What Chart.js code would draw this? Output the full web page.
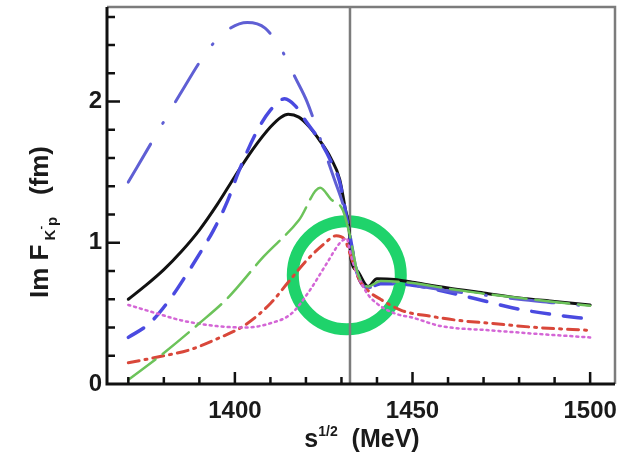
<!DOCTYPE html>
<html>
<head>
<meta charset="utf-8">
<script src="https://cdn.jsdelivr.net/npm/chart.js@4"></script>
<style>
body { margin: 0; background: #fff; }
#wrap { width: 623px; height: 454px; }
</style>
</head>
<body>
<div id="wrap"><canvas id="c" width="623" height="454"></canvas></div>
<script>
// x = s^1/2 (MeV), y = Im F (fm)
var blackX = [1370, 1375, 1380, 1385, 1390, 1395, 1400, 1405, 1410, 1413, 1415, 1418, 1421, 1424, 1427, 1429.5, 1431, 1432.2, 1432.6, 1434.5, 1437.5, 1440, 1445, 1450, 1460, 1470, 1480, 1490, 1500];
var blackY = [0.60, 0.70, 0.81, 0.94, 1.09, 1.27, 1.47, 1.66, 1.82, 1.89, 1.91, 1.89, 1.82, 1.72, 1.60, 1.45, 1.25, 1.08, 0.90, 0.80, 0.69, 0.745, 0.74, 0.72, 0.68, 0.645, 0.61, 0.585, 0.56];

var blueDashX = [1370, 1376, 1382, 1386, 1390, 1394, 1398, 1401, 1406, 1410, 1414, 1417, 1420, 1424, 1427, 1429.5, 1431, 1432.3, 1434.5, 1437.5, 1441, 1450, 1460, 1470, 1478, 1490, 1500];
var blueDashY = [0.33, 0.43, 0.61, 0.76, 0.92, 1.09, 1.30, 1.50, 1.78, 1.94, 2.02, 1.97, 1.86, 1.72, 1.58, 1.43, 1.24, 1.06, 0.78, 0.68, 0.71, 0.70, 0.65, 0.59, 0.54, 0.49, 0.46];

var blueDotX = [1370, 1377, 1384.5, 1392, 1397, 1403.5, 1408.5, 1413.5, 1417, 1420.3, 1424.8, 1428, 1431, 1432.3, 1434.5, 1437.5, 1441, 1450, 1460, 1470, 1480, 1490, 1500];
var blueDotY = [1.43, 1.73, 2.05, 2.35, 2.49, 2.56, 2.52, 2.35, 2.17, 2.00, 1.68, 1.45, 1.22, 1.06, 0.78, 0.68, 0.72, 0.70, 0.66, 0.63, 0.60, 0.575, 0.55];

var greenX = [1370, 1380, 1390, 1398, 1408, 1418, 1424, 1427, 1430.4, 1432.3, 1434.5, 1437.5, 1441, 1450, 1460, 1470, 1480, 1490, 1500];
var greenY = [0.03, 0.22, 0.43, 0.61, 0.90, 1.16, 1.39, 1.31, 1.23, 1.06, 0.79, 0.69, 0.73, 0.715, 0.675, 0.64, 0.61, 0.58, 0.555];

var redX = [1370, 1380, 1387, 1395, 1403, 1410, 1415, 1420, 1425, 1428.5, 1431, 1432.3, 1435, 1438, 1441, 1447, 1455, 1463, 1472, 1485, 1500];
var redY = [0.15, 0.20, 0.24, 0.32, 0.42, 0.57, 0.72, 0.87, 0.99, 1.05, 1.02, 0.93, 0.74, 0.65, 0.60, 0.52, 0.48, 0.45, 0.43, 0.40, 0.38];

var magentaX = [1370, 1378, 1385, 1395, 1403, 1410, 1416, 1421, 1426, 1429.6, 1431.5, 1432.3, 1433.5, 1437, 1440, 1445, 1450, 1458, 1472, 1485, 1500];
var magentaY = [0.56, 0.50, 0.45, 0.41, 0.40, 0.43, 0.50, 0.66, 0.86, 1.00, 1.03, 0.95, 0.84, 0.65, 0.57, 0.50, 0.47, 0.41, 0.38, 0.355, 0.33];

var thresholdX = 1432.4;   // K- p threshold line
var circleX = 1431.5;      // highlighted cusp region
var circleY = 0.77;

var xTicks = [1400, 1450, 1500];
var yTicks = [0, 1, 2];
var xMin = 1364, xMax = 1507;
var yMin = 0, yMax = 2.67;

var FONT = "'Liberation Sans', Arial, sans-serif";

function pts(xs, ys) {
  var out = [];
  for (let i = 0; i < xs.length; i++) out.push({ x: xs[i], y: ys[i] });
  return out;
}

function curve(label, xs, ys, color, width, dash) {
  return {
    label: label,
    data: pts(xs, ys),
    showLine: true,
    borderColor: color,
    borderWidth: width,
    borderDash: dash,
    borderCapStyle: "round",
    pointRadius: 0,
    cubicInterpolationMode: "monotone",
    fill: false,
    order: 1,
  };
}

// no extra padding from tick labels, the plot box is fixed by layout.padding
function noPad(scale) {
  scale.paddingLeft = 0;
  scale.paddingRight = 0;
  scale.paddingTop = 0;
  scale.paddingBottom = 0;
}

var frameAndTitles = {
  id: "frameAndTitles",
  afterDraw: function (chart) {
    var ctx = chart.ctx, a = chart.chartArea;
    var xs = chart.scales.x, ys = chart.scales.y;
    ctx.save();

    // top and right frame, grey
    ctx.strokeStyle = "#7c7c7c";
    ctx.lineWidth = 2.5;
    ctx.beginPath();
    ctx.moveTo(a.left, a.top);
    ctx.lineTo(a.right, a.top);
    ctx.lineTo(a.right, a.bottom);
    ctx.stroke();

    // left and bottom axes, black
    ctx.strokeStyle = "#111";
    ctx.lineWidth = 3;
    ctx.beginPath();
    ctx.moveTo(a.left, a.top);
    ctx.lineTo(a.left, a.bottom);
    ctx.lineTo(a.right, a.bottom);
    ctx.stroke();

    // inward ticks
    ctx.lineWidth = 2.5;
    ctx.beginPath();
    for (let v = 1370; v <= 1500; v += 10) {
      var px = xs.getPixelForValue(v);
      var len = xTicks.indexOf(v) >= 0 ? 12 : 7;
      ctx.moveTo(px, a.bottom);
      ctx.lineTo(px, a.bottom - len);
    }
    for (let k = 1; k <= 13; k++) {
      var v = k * 0.2;
      var py = ys.getPixelForValue(v);
      var len = (k % 5 === 0) ? 13 : 8;
      ctx.moveTo(a.left, py);
      ctx.lineTo(a.left + len, py);
    }
    ctx.stroke();

    ctx.fillStyle = "#1a1a1a";
    ctx.textBaseline = "alphabetic";

    // y title: Im F_{K^- p} (fm)
    ctx.save();
    ctx.translate(48, 222);
    ctx.rotate(-Math.PI / 2);
    var parts = [
      ["Im F", "bold 26px " + FONT, 0],
      [" K", "bold 15px " + FONT, 7],
      ["-", "bold 11px " + FONT, -4],
      ["p", "bold 15px " + FONT, 9],
      ["   (fm)", "bold 26px " + FONT, 0],
    ];
    var total = 0;
    parts.forEach(function (p) { ctx.font = p[1]; total += ctx.measureText(p[0]).width; });
    var cx = -total / 2;
    parts.forEach(function (p) {
      ctx.font = p[1];
      ctx.fillText(p[0], cx, p[2]);
      cx += ctx.measureText(p[0]).width;
    });
    ctx.restore();

    // x title: s^{1/2} (MeV)
    var xp = [
      ["s", "bold 25px " + FONT, 0],
      ["1/2", "bold 14px " + FONT, -11],
      ["  (MeV)", "bold 25px " + FONT, 0],
    ];
    var tw = 0;
    xp.forEach(function (p) { ctx.font = p[1]; tw += ctx.measureText(p[0]).width; });
    var sx = 362 - tw / 2;
    xp.forEach(function (p) {
      ctx.font = p[1];
      ctx.fillText(p[0], sx, 447 + p[2]);
      sx += ctx.measureText(p[0]).width;
    });

    ctx.restore();
  },
};

var datasets = [
  {
    label: "circle",
    data: [{ x: circleX, y: circleY }],
    showLine: false,
    pointRadius: 54,
    pointHoverRadius: 54,
    pointBorderWidth: 12,
    pointBorderColor: "#1fd36b",
    pointBackgroundColor: "rgba(0,0,0,0)",
    order: 5,
  },
  {
    label: "threshold",
    data: [{ x: thresholdX, y: yMin }, { x: thresholdX, y: yMax }],
    showLine: true,
    borderColor: "#7c7c7c",
    borderWidth: 2.5,
    pointRadius: 0,
    order: 3,
  },
  curve("green", greenX, greenY, "#6cc35a", 2.5, [34, 9]),
  curve("magenta", magentaX, magentaY, "#d466d6", 2.5, [2, 4]),
  curve("red", redX, redY, "#d9473a", 3, [11, 6, 2, 6]),
  curve("blue dash-dot", blueDotX, blueDotY, "#5f5fd4", 3, [44, 24, 1, 24]),
  curve("blue dashed", blueDashX, blueDashY, "#4a4ae0", 3.5, [18, 14]),
  curve("black", blackX, blackY, "#111111", 3, []),
];

new Chart(document.getElementById("c").getContext("2d"), {
  type: "scatter",
  data: { datasets: datasets },
  options: {
    responsive: false,
    animation: false,
    events: [],
    layout: { autoPadding: false, padding: { top: 7, right: 8, left: 0, bottom: 0 } },
    plugins: { legend: { display: false }, tooltip: { enabled: false } },
    scales: {
      x: {
        type: "linear",
        min: xMin,
        max: xMax,
        grid: { display: false, drawTicks: false },
        border: { display: false },
        afterBuildTicks: function (axis) { axis.ticks = xTicks.map(function (v) { return { value: v }; }); },
        afterFit: function (scale) { scale.height = 70; noPad(scale); },
        ticks: {
          padding: 13,
          color: "#1a1a1a",
          font: { family: FONT, size: 24, weight: "bold" },
          maxRotation: 0,
          callback: function (v) { return String(v); },
        },
      },
      y: {
        type: "linear",
        min: yMin,
        max: yMax,
        grid: { display: false, drawTicks: false },
        border: { display: false },
        afterBuildTicks: function (axis) { axis.ticks = yTicks.map(function (v) { return { value: v }; }); },
        afterFit: function (scale) { scale.width = 107; noPad(scale); },
        ticks: {
          padding: 5,
          color: "#1a1a1a",
          font: { family: FONT, size: 24, weight: "bold" },
          callback: function (v) { return String(v); },
        },
      },
    },
  },
  plugins: [frameAndTitles],
});
</script>
</body>
</html>
